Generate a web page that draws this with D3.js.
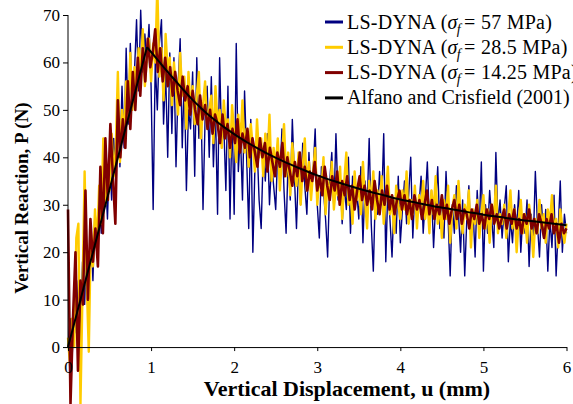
<!DOCTYPE html>
<html>
<head>
<meta charset="utf-8">
<script src="https://cdn.jsdelivr.net/npm/d3@7"></script>
<style>
  body { margin: 0; background: #fff; }
  svg text { font-family: "Liberation Serif", "Times New Roman", serif; fill: #000; }
  .axis path, .axis line { stroke: #000; }
</style>
</head>
<body>
<svg width="573" height="404"></svg>
<script>
var svg = d3.select("svg");
var FONT = "'Liberation Serif', 'Times New Roman', serif";

// LS-DYNA sigma_f = 57 MPa, sampled every 0.025 mm
var blueStep = 0.025;
var blueP = [
  0, 6, -2, 9, 3, 14, 5, 18, 9, 21,
  12, 25, 14, 29, 20, 33, 24, 30, 36, 27,
  41, 31, 44, 36, 49, 38, 55, 42, 63, 47,
  64, 50, 58, 69, 54, 71, 58, 66, 60, 68,
  55, 29, 60, 50, 64, 69, 47, 58, 40, 62,
  45, 61, 38, 55, 65, 42, 57, 33, 50, 46,
  58, 36, 61, 44, 52, 29, 48, 55, 40, 57,
  38, 50, 28, 61, 42, 47, 33, 55, 27, 49,
  28, 64, 37, 45, 31, 54, 40, 25, 48, 20,
  38, 43, 31, 25, 41, 35, 45, 30, 39, 34,
  29, 42, 35, 46, 33, 24, 40, 31, 48, 36,
  25, 39, 30, 43, 34, 28, 41, 32, 37, 46,
  30, 23, 38, 33, 27, 19, 35, 41, 29, 45,
  31, 37, 26, 34, 29, 40, 24, 36, 30, 33,
  27, 38, 22, 35, 29, 44, 26, 16, 33, 28,
  37, 30, 45, 18, 34, 27, 19, 31, 24, 36,
  22, 29, 35, 26, 32, 40, 23, 33, 27, 30,
  36, 24, 31, 39, 26, 33, 21, 30, 38, 25,
  32, 23, 37, 27, 15, 30, 24, 34, 28, 20,
  31, 15, 27, 34, 22, 29, 19, 33, 25, 39,
  16, 30, 24, 33, 27, 21, 41, 26, 31, 23,
  29, 34, 18, 27, 22, 30, 25, 33, 20, 28,
  24, 31, 17, 28, 22, 37, 26, 19, 30, 23,
  29, 16, 27, 21, 32, 15, 25, 35, 20, 28, 24
];

// LS-DYNA sigma_f = 28.5 MPa, every 0.025 mm
var yellowStep = 0.025;
var yellowP = [
  2, -4, 6, 0, 23, 26, -12, 12, 37, 14,
  -1, 24, 17, 29, 21, 34, 26, 44, 30, 38,
  33, 45, 36, 42, 58, 39, 50, 44, 56, 48,
  62, 50, 59, 54, 63, 57, 67, 55, 61, 65,
  56, 64, 60, 76, 57, 63, 52, 66, 58, 61,
  51, 60, 54, 49, 62, 53, 57, 46, 58, 50,
  55, 47, 53, 58, 44, 51, 56, 46, 50, 53,
  43, 55, 47, 50, 42, 52, 46, 48, 40, 51,
  45, 39, 49, 43, 52, 41, 46, 38, 47, 42,
  37, 48, 40, 44, 36, 45, 39, 49, 35, 42,
  38, 44, 33, 40, 47, 36, 41, 32, 43, 37,
  34, 41, 30, 38, 44, 33, 39, 31, 37, 42,
  30, 36, 33, 40, 28, 35, 31, 39, 29, 34,
  32, 38, 27, 35, 41, 30, 33, 26, 37, 31,
  34, 28, 39, 31, 25, 35, 30, 37, 27, 33,
  29, 36, 26, 32, 38, 28, 31, 24, 34, 30,
  27, 33, 29, 37, 26, 31, 28, 34, 25, 32,
  29, 35, 27, 31, 24, 33, 28, 36, 26, 30,
  23, 31, 27, 34, 22, 29, 32, 25, 35, 28,
  24, 30, 27, 33, 21, 29, 26, 31, 23, 28,
  32, 25, 29, 22, 30, 27, 34, 24, 28, 26,
  30, 23, 28, 33, 25, 29, 20, 27, 31, 24,
  28, 22, 30, 26, 19, 27, 24, 31, 25, 28,
  22, 29, 26, 32, 24, 27, 21, 29, 25, 22, 26
];

// LS-DYNA sigma_f = 14.25 MPa, every 0.03 mm
var redStep = 0.03;
var redP = [
  29, -12, 6, 20, -5, 14, 9, 33, 10, 27,
  18, 25, 17, 38, 24, 44, 31, 47, 36, 26,
  52, 40, 48, 42, 56, 46, 58, 50, 61, 53,
  63, 56, 65, 59, 62, 67, 58, 63, 56, 61,
  55, 59, 53, 58, 54, 51, 57, 52, 55, 49,
  54, 50, 47, 53, 48, 51, 46, 50, 45, 49,
  47, 43, 49, 44, 47, 42, 46, 43, 48, 41,
  45, 42, 46, 40, 44, 41, 38, 44, 40, 43,
  37, 42, 39, 36, 41, 38, 43, 36, 40, 37,
  34, 39, 36, 41, 35, 38, 33, 37, 35, 39,
  33, 36, 32, 38, 34, 31, 36, 33, 37, 30,
  35, 32, 36, 31, 34, 29, 33, 36, 31, 34,
  30, 33, 29, 35, 31, 28, 33, 30, 34, 29,
  32, 28, 31, 33, 29, 32, 28, 31, 27, 32,
  29, 31, 27, 30, 33, 28, 31, 27, 30, 28,
  32, 27, 30, 26, 29, 31, 27, 30, 26, 29,
  28, 25, 29, 27, 30, 26, 28, 25, 29, 27,
  30, 26, 28, 25, 27, 29, 25, 28, 26, 29,
  25, 27, 24, 28, 26, 29, 25, 27, 24, 28,
  26, 23, 27, 25, 28, 24, 26, 22, 26, 24,
  25
];

// Alfano and Crisfield (2001)
var refU = [0, 0.95, 1.0, 1.1, 1.2, 1.3, 1.4, 1.5, 1.6, 1.7, 1.8, 1.9, 2.0, 2.2, 2.4, 2.6, 2.8,
            3.0, 3.2, 3.4, 3.6, 3.8, 4.0, 4.2, 4.4, 4.6, 4.8, 5.0, 5.2, 5.4, 5.6, 5.8, 6.0];
var refP = [0, 63.2, 62.2, 60.1, 58.0, 56.0, 54.0, 52.1, 50.4, 48.8, 47.4, 46.1, 44.9, 42.7, 40.8, 39.1, 37.6,
            36.2, 35.0, 33.9, 32.9, 32.0, 31.1, 30.4, 29.7, 29.1, 28.5, 27.9, 27.4, 26.9, 26.5, 26.1, 25.7];

var xTicks = [0, 1, 2, 3, 4, 5, 6];
var yTicks = [0, 10, 20, 30, 40, 50, 60, 70];

var legendNames = [
  ["LS-DYNA (", "σ", "f", " = 57 MPa)"],
  ["LS-DYNA (", "σ", "f", " = 28.5 MPa)"],
  ["LS-DYNA (", "σ", "f", " = 14.25 MPa)"],
  ["Alfano and Crisfield (2001)"]
];
var colors = ["#000080", "#ffcc00", "#800000", "#000000"];
var widths = [1.4, 2.4, 2.6, 2];

var x = d3.scaleLinear().domain([0, 6]).range([68, 566.5]);
var y = d3.scaleLinear().domain([-12, 70]).range([404, 15]);

function toPts(vals, step) {
  return vals.map(function(v, i) { return [i * step, v]; });
}

var line = d3.line().x(d => x(d[0])).y(d => y(d[1]));

var series = [
  toPts(blueP, blueStep),
  toPts(yellowP, yellowStep),
  toPts(redP, redStep)
];

series.forEach(function(s, k) {
  svg.append("path")
    .attr("d", line(s))
    .attr("fill", "none")
    .attr("stroke", colors[k])
    .attr("stroke-width", widths[k])
    .attr("stroke-linejoin", "round");
});

var ref = refU.map((u, i) => [u, refP[i]]);
svg.append("path")
  .attr("d", line(ref.slice(0, 2)))
  .attr("fill", "none").attr("stroke", colors[3]).attr("stroke-width", widths[3]);
svg.append("path")
  .attr("d", line.curve(d3.curveMonotoneX)(ref.slice(1)))
  .attr("fill", "none").attr("stroke", colors[3]).attr("stroke-width", widths[3]);

var xa = svg.append("g")
  .attr("class", "axis")
  .attr("transform", "translate(0," + y(0) + ")")
  .call(d3.axisBottom(x).tickValues(xTicks).tickFormat(d3.format("d")).tickSize(4).tickPadding(10).tickSizeOuter(0));
xa.attr("font-family", FONT).attr("font-size", 17);

var ya = svg.append("g")
  .attr("class", "axis")
  .attr("transform", "translate(" + x(0) + ",0)")
  .call(d3.axisLeft(y).tickValues(yTicks).tickFormat(d3.format("d")).tickSize(5).tickPadding(3).tickSizeOuter(0))
  .call(g => g.select(".domain").attr("d", "M0," + y(0) + "V" + y(70)));
ya.attr("font-family", FONT).attr("font-size", 17);

// axis titles
svg.append("text")
  .attr("x", 347).attr("y", 396)
  .attr("text-anchor", "middle")
  .attr("font-family", FONT)
  .attr("font-weight", "bold").attr("font-size", 22)
  .text("Vertical Displacement, u (mm)");

svg.append("text")
  .attr("transform", "translate(28,198) rotate(-90)")
  .attr("text-anchor", "middle")
  .attr("font-family", FONT)
  .attr("font-weight", "bold").attr("font-size", 19)
  .text("Vertical Reaction, P (N)");

// legend
var leg = svg.append("g").attr("font-family", FONT);
legendNames.forEach(function(n, k) {
  var yy = 22 + k * 25.3;
  leg.append("line")
    .attr("x1", 325).attr("x2", 343).attr("y1", yy).attr("y2", yy)
    .attr("stroke", colors[k]).attr("stroke-width", 3);
  var t = leg.append("text").attr("x", 347).attr("y", yy + 6.5).attr("font-size", 20);
  if (n.length == 1) {
    t.text(n[0]);
  } else {
    t.attr("letter-spacing", 0.25);
    t.append("tspan").text(n[0]);
    t.append("tspan").attr("font-style", "italic").text(n[1]);
    t.append("tspan").attr("dy", 5).attr("dx", -1).attr("font-style", "italic").attr("font-size", 14).text(n[2]);
    t.append("tspan").attr("dy", -5).attr("dx", -2).text(n[3]);
  }
});
</script>
</body>
</html>
